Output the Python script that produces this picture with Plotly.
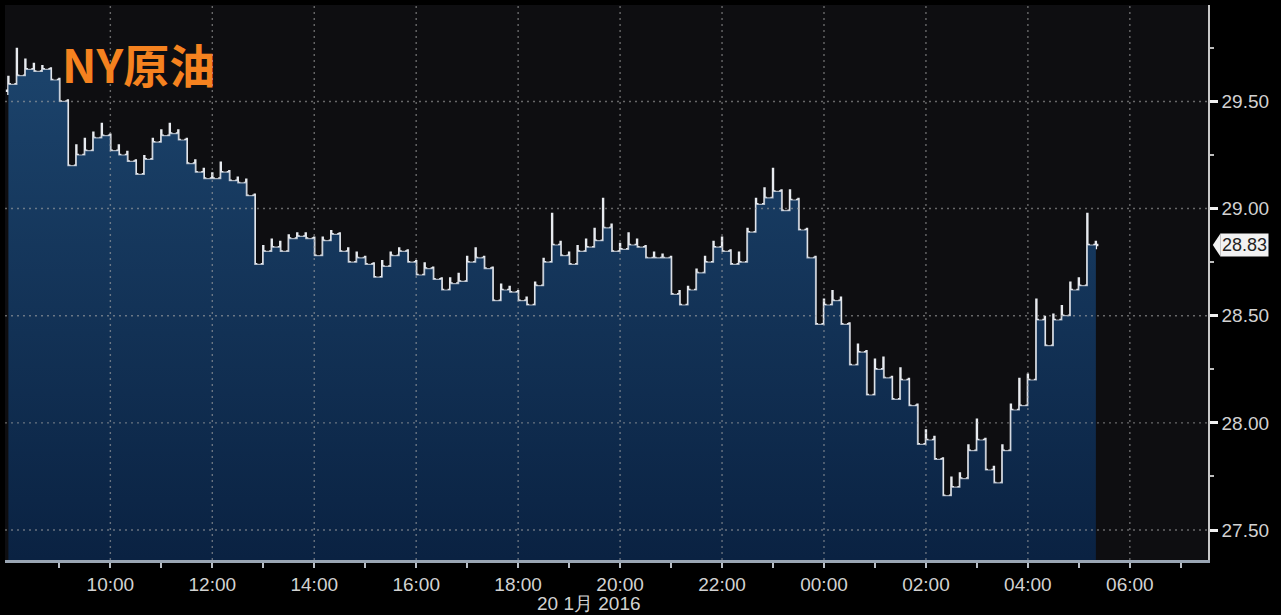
import plotly.graph_objects as go
import pandas as pd

# ---- data (10-minute OHLC bars, 20 Jan 2016 08:00 -> 21 Jan 05:20) ----
start_time = "2016-01-20 08:00"
bar_interval = "10min"

opens = [29.55, 29.58, 29.62, 29.65, 29.64, 29.65, 29.60, 29.50, 29.20, 29.25,
         29.27, 29.33, 29.34, 29.27, 29.25, 29.22, 29.16, 29.23, 29.31, 29.34,
         29.35, 29.32, 29.21, 29.17, 29.14, 29.14, 29.17, 29.13, 29.12, 29.06,
         28.74, 28.80, 28.82, 28.80, 28.86, 28.87, 28.86, 28.78, 28.85, 28.88,
         28.80, 28.75, 28.77, 28.74, 28.68, 28.73, 28.78, 28.80, 28.75, 28.69,
         28.72, 28.67, 28.62, 28.65, 28.66, 28.75, 28.77, 28.72, 28.57, 28.62,
         28.61, 28.57, 28.55, 28.64, 28.75, 28.83, 28.78, 28.74, 28.80, 28.82,
         28.85, 28.91, 28.80, 28.81, 28.83, 28.82, 28.77, 28.77, 28.77, 28.60,
         28.55, 28.62, 28.70, 28.75, 28.82, 28.80, 28.74, 28.75, 28.89, 29.02,
         29.05, 29.08, 28.99, 29.04, 28.90, 28.77, 28.46, 28.55, 28.57, 28.46,
         28.27, 28.33, 28.13, 28.25, 28.21, 28.11, 28.20, 28.08, 27.90, 27.92,
         27.83, 27.66, 27.70, 27.74, 27.87, 27.92, 27.78, 27.72, 27.87, 28.06,
         28.08, 28.20, 28.48, 28.36, 28.48, 28.50, 28.62, 28.64, 28.83]

highs = [29.62, 29.75, 29.70, 29.68, 29.67, 29.66, 29.61, 29.51, 29.30, 29.33,
         29.36, 29.40, 29.35, 29.30, 29.27, 29.23, 29.25, 29.33, 29.37, 29.40,
         29.37, 29.33, 29.23, 29.19, 29.17, 29.22, 29.18, 29.15, 29.14, 29.07,
         28.83, 28.86, 28.85, 28.88, 28.89, 28.89, 28.87, 28.87, 28.90, 28.89,
         28.82, 28.80, 28.78, 28.75, 28.76, 28.80, 28.82, 28.81, 28.76, 28.75,
         28.73, 28.68, 28.68, 28.70, 28.78, 28.82, 28.78, 28.73, 28.65, 28.64,
         28.62, 28.59, 28.66, 28.77, 28.98, 28.85, 28.80, 28.83, 28.86, 28.91,
         29.05, 28.93, 28.84, 28.89, 28.86, 28.83, 28.80, 28.79, 28.78, 28.62,
         28.64, 28.72, 28.78, 28.85, 28.87, 28.81, 28.80, 28.91, 29.05, 29.10,
         29.19, 29.09, 29.09, 29.05, 28.91, 28.78, 28.58, 28.62, 28.59, 28.47,
         28.37, 28.34, 28.30, 28.31, 28.22, 28.26, 28.21, 28.09, 27.97, 27.94,
         27.84, 27.75, 27.77, 27.90, 28.02, 27.93, 27.80, 27.90, 28.09, 28.21,
         28.23, 28.58, 28.50, 28.51, 28.55, 28.66, 28.68, 28.98, 28.85]

lows = [29.53, 29.57, 29.60, 29.61, 29.61, 29.57, 29.47, 29.04, 29.17, 29.22,
        29.25, 29.29, 29.13, 29.21, 29.18, 29.07, 29.13, 29.21, 29.29, 29.31,
        29.29, 29.18, 29.13, 29.10, 29.11, 29.12, 29.10, 29.09, 29.03, 28.70,
        28.71, 28.77, 28.77, 28.78, 28.83, 28.83, 28.74, 28.76, 28.83, 28.77,
        28.72, 28.73, 28.70, 28.65, 28.66, 28.71, 28.76, 28.72, 28.66, 28.67,
        28.63, 28.56, 28.60, 28.62, 28.64, 28.73, 28.68, 28.45, 28.54, 28.57,
        28.52, 28.48, 28.53, 28.62, 28.73, 28.75, 28.70, 28.72, 28.77, 28.79,
        28.83, 28.77, 28.76, 28.78, 28.78, 28.75, 28.75, 28.74, 28.56, 28.51,
        28.53, 28.60, 28.68, 28.73, 28.76, 28.70, 28.71, 28.73, 28.87, 28.98,
        29.02, 28.96, 28.97, 28.87, 28.73, 28.39, 28.43, 28.50, 28.43, 28.23,
        28.25, 28.08, 28.11, 28.17, 28.05, 28.09, 28.04, 27.85, 27.86, 27.78,
        27.58, 27.62, 27.66, 27.72, 27.85, 27.74, 27.69, 27.70, 27.85, 28.03,
        28.05, 28.18, 28.19, 28.33, 28.45, 28.48, 28.58, 28.60, 28.81]

closes = [29.58, 29.62, 29.65, 29.64, 29.65, 29.60, 29.50, 29.20, 29.25, 29.27,
          29.33, 29.34, 29.27, 29.25, 29.22, 29.16, 29.23, 29.31, 29.34, 29.35,
          29.32, 29.21, 29.17, 29.14, 29.14, 29.17, 29.13, 29.12, 29.06, 28.74,
          28.80, 28.82, 28.80, 28.86, 28.87, 28.86, 28.78, 28.85, 28.88, 28.80,
          28.75, 28.77, 28.74, 28.68, 28.73, 28.78, 28.80, 28.75, 28.69, 28.72,
          28.67, 28.62, 28.65, 28.66, 28.75, 28.77, 28.72, 28.57, 28.62, 28.61,
          28.57, 28.55, 28.64, 28.75, 28.83, 28.78, 28.74, 28.80, 28.82, 28.85,
          28.91, 28.80, 28.81, 28.83, 28.82, 28.77, 28.77, 28.77, 28.60, 28.55,
          28.62, 28.70, 28.75, 28.82, 28.80, 28.74, 28.75, 28.89, 29.02, 29.05,
          29.08, 28.99, 29.04, 28.90, 28.77, 28.46, 28.55, 28.57, 28.46, 28.27,
          28.33, 28.13, 28.25, 28.21, 28.11, 28.20, 28.08, 27.90, 27.92, 27.83,
          27.66, 27.70, 27.74, 27.87, 27.92, 27.78, 27.72, 27.87, 28.06, 28.08,
          28.20, 28.48, 28.36, 28.48, 28.50, 28.62, 28.64, 28.83, 28.83]

last_price = 28.83
title_text = "NY原油"
date_label = "20 1月 2016"

y_ticks = [27.5, 28.0, 28.5, 29.0, 29.5]
x_label_ticks = ["2016-01-20 10:00", "2016-01-20 12:00", "2016-01-20 14:00",
                 "2016-01-20 16:00", "2016-01-20 18:00", "2016-01-20 20:00",
                 "2016-01-20 22:00", "2016-01-21 00:00", "2016-01-21 02:00",
                 "2016-01-21 04:00", "2016-01-21 06:00"]
x_minor_ticks = ["2016-01-20 09:00", "2016-01-20 11:00", "2016-01-20 13:00",
                 "2016-01-20 15:00", "2016-01-20 17:00", "2016-01-20 19:00",
                 "2016-01-20 21:00", "2016-01-20 23:00", "2016-01-21 01:00",
                 "2016-01-21 03:00", "2016-01-21 05:00", "2016-01-21 07:00"]
x_range = ["2016-01-20 07:56", "2016-01-21 07:32"]
y_range = [27.36, 29.95]

times = pd.date_range(start_time, periods=len(closes), freq=bar_interval)

TICK_FONT = dict(family="Liberation Sans, Arial, sans-serif", size=19, color="#d2d2d2")
GRID = dict(color="rgba(165,165,165,0.6)", width=1.4, dash="2px,4px")

fig = go.Figure()

# area under the close, with a faint light outline
fig.add_trace(go.Scatter(
    x=times, y=closes, mode="lines",
    line=dict(width=1.2, shape="hv", color="rgba(215,220,228,0.75)"),
    fill="tozeroy",
    fillgradient=dict(type="vertical", start=y_range[0], stop=29.6,
                      colorscale=[[0, "#0a2242"], [1, "#1b426a"]]),
    hoverinfo="skip", showlegend=False))

# OHLC bars
fig.add_trace(go.Ohlc(
    x=times, open=opens, high=highs, low=lows, close=closes,
    increasing=dict(line=dict(color="#e8ebf0", width=2.4)),
    decreasing=dict(line=dict(color="#e8ebf0", width=2.4)),
    tickwidth=0.3, showlegend=False))

shapes = []
for v in y_ticks:
    shapes.append(dict(type="line", xref="paper", x0=0, x1=1, yref="y", y0=v, y1=v,
                       line=GRID, layer="above"))
for t in x_label_ticks:
    shapes.append(dict(type="line", yref="paper", y0=0, y1=1, xref="x", x0=t, x1=t,
                       line=GRID, layer="above"))
# tag pointer for last price
shapes.append(dict(type="path", xref="paper", yref="y",
                   path=f"M 1.004,{last_price} L 1.0105,{last_price + 0.055} "
                        f"L 1.0105,{last_price - 0.055} Z",
                   fillcolor="#f2f2f2", line=dict(width=0)))

fig.update_layout(
    width=1281, height=615,
    margin=dict(l=5, r=73, t=5, b=55),
    paper_bgcolor="#000000", plot_bgcolor="#0e0e11",
    shapes=shapes,
    xaxis=dict(
        type="date", range=x_range, rangeslider=dict(visible=False),
        tickmode="array", tickvals=x_label_ticks, tickformat="%H:%M",
        ticks="outside", ticklen=5, tickwidth=1.5, tickcolor="#b8bec6",
        tickfont=TICK_FONT, showgrid=False, zeroline=False,
        showline=True, linecolor="#9aa6b4", linewidth=2.5,
        minor=dict(tickmode="array", tickvals=x_minor_ticks, ticks="outside",
                   ticklen=5, tickwidth=1.5, tickcolor="#b8bec6", showgrid=False),
    ),
    yaxis=dict(
        side="right", range=y_range, tickmode="array", tickvals=y_ticks,
        tickformat=".2f", ticks="outside", ticklen=8, tickwidth=2.5,
        tickcolor="#f0f0f0", tickfont=TICK_FONT, showgrid=False, zeroline=False,
        showline=True, linecolor="#c8c8c8", linewidth=1.5,
        minor=dict(dtick=0.25, ticks="outside", ticklen=4, tickwidth=1.5,
                   tickcolor="#bdbdbd", showgrid=False),
    ),
    annotations=[
        dict(text=f"<b>{title_text}</b>", xref="paper", yref="paper",
             x=0.046, y=0.895, xanchor="left", yanchor="middle", showarrow=False,
             font=dict(family="Noto Sans CJK SC, Noto Sans, sans-serif", size=46,
                       color="#f5821f")),
        dict(text=date_label, xref="paper", yref="paper", x=0.4855, y=0,
             yshift=-43, xanchor="center", yanchor="middle", showarrow=False,
             font=TICK_FONT),
        dict(text=f"{last_price:.2f}", xref="paper", yref="y", x=1, y=last_price,
             xanchor="left", xshift=12, yanchor="middle", showarrow=False,
             bgcolor="#f2f2f2", borderpad=1,
             font=dict(family="Liberation Sans, Arial, sans-serif", size=18,
                       color="#222222")),
    ],
)

fig.write_html("out.html",
               config={"displayModeBar": False},
               post_script="document.body.style.margin='0';"
                           "document.body.style.background='#000';")
